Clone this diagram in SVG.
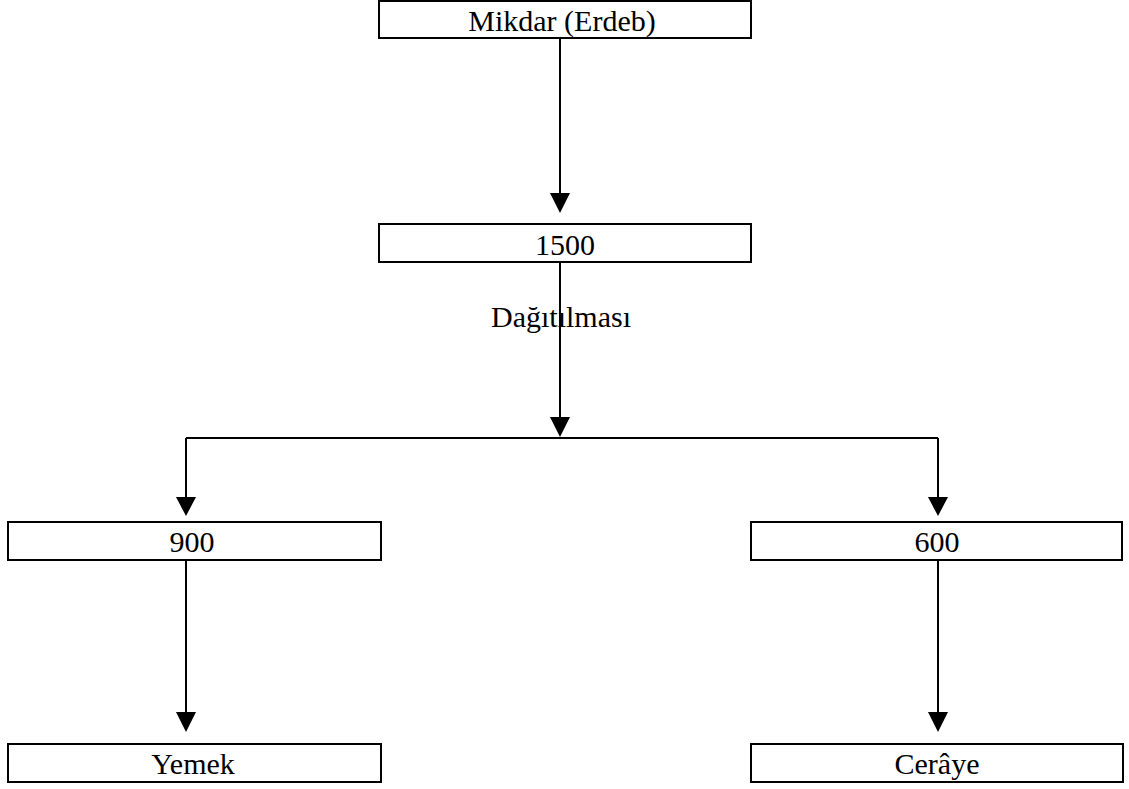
<svg xmlns="http://www.w3.org/2000/svg" width="1129" height="789" viewBox="0 0 1129 789">
<style>
.box{fill:#fff;stroke:#000;stroke-width:2}
.lbl{font-family:"Liberation Serif","Times New Roman",serif;font-size:30px;fill:#000;text-anchor:middle}
.ln{stroke:#000;stroke-width:2;fill:none}
.ah{fill:#000}
</style>
<rect width="1129" height="789" fill="#fff"/>
<g id="connectors">
<line class="ln" x1="560" y1="39" x2="560" y2="195"/>
<polygon class="ah" points="550,193 570,193 560,213"/>
<line class="ln" x1="560" y1="263" x2="560" y2="419"/>
<polygon class="ah" points="550,417 570,417 560,437"/>
<line class="ln" x1="186" y1="438" x2="938" y2="438"/>
<line class="ln" x1="186" y1="438" x2="186" y2="499"/>
<polygon class="ah" points="176,497 196,497 186,516"/>
<line class="ln" x1="938" y1="438" x2="938" y2="499"/>
<polygon class="ah" points="928,497 948,497 938,516"/>
<line class="ln" x1="186" y1="561" x2="186" y2="714"/>
<polygon class="ah" points="176,712 196,712 186,732"/>
<line class="ln" x1="938" y1="561" x2="938" y2="714"/>
<polygon class="ah" points="928,712 948,712 938,732"/>
<text class="lbl" x="561" y="327">Dağıtılması</text>
</g>
<g id="n-mikdar"><rect class="box" x="379" y="1" width="372" height="37"/><text class="lbl" x="562" y="31">Mikdar (Erdeb)</text></g>
<g id="n-1500"><rect class="box" x="379" y="224" width="372" height="38"/><text class="lbl" x="565" y="255">1500</text></g>
<g id="n-900"><rect class="box" x="8" y="522" width="373" height="38"/><text class="lbl" x="192" y="552">900</text></g>
<g id="n-600"><rect class="box" x="751" y="522" width="371" height="38"/><text class="lbl" x="937" y="552">600</text></g>
<g id="n-yemek"><rect class="box" x="8" y="744" width="373" height="38"/><text class="lbl" x="193" y="774">Yemek</text></g>
<g id="n-ceraye"><rect class="box" x="751" y="744" width="372" height="38"/><text class="lbl" x="937" y="774">Cerâye</text></g>
</svg>
